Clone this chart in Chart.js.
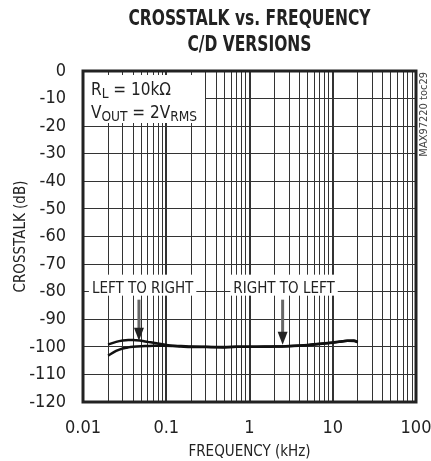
<!DOCTYPE html>
<html>
<head>
<meta charset="utf-8">
<script src="https://cdn.jsdelivr.net/npm/chart.js@4.4.1/dist/chart.umd.min.js"></script>
<style>
  html, body { margin: 0; padding: 0; background: #fff; }
  canvas { display: block; }
</style>
</head>
<body>
<canvas id="chart" width="431" height="461"></canvas>
<script>
// 周波数 (kHz)
const freq = [0.02, 0.025, 0.03, 0.035, 0.04, 0.05, 0.06, 0.07, 0.08, 0.1, 0.12, 0.15, 0.2, 0.3, 0.5, 0.7, 1, 1.5, 2, 3, 4, 5, 7, 10, 12, 15, 18, 20]
// クロストーク (dB)
const leftToRight = [-99.2, -98.2, -97.7, -97.5, -97.5, -97.8, -98.2, -98.5, -98.8, -99.3, -99.6, -99.7, -99.9, -100.0, -100.1, -100.0, -100.0, -100.0, -99.9, -99.8, -99.6, -99.4, -99.0, -98.5, -98.2, -97.8, -97.9, -98.4]
const rightToLeft = [-103.2, -101.5, -100.6, -100.2, -100.0, -99.8, -99.7, -99.6, -99.6, -99.6, -99.7, -99.9, -100.1, -100.1, -100.2, -100.0, -100.0, -99.9, -99.9, -99.7, -99.5, -99.3, -98.9, -98.4, -98.1, -97.8, -97.7, -98.2]

// 目盛り
const xDecades = [0.01, 0.1, 1, 10, 100]
const xMantissa = [1, 2, 3, 4, 5, 6, 7, 8, 9]
const yTicks = [0, -10, -20, -30, -40, -50, -60, -70, -80, -90, -100, -110, -120]

const FONT = '"Liberation Sans Narrow", "DejaVu Sans Condensed", "Liberation Sans", sans-serif'
Chart.defaults.font.family = FONT
Chart.defaults.color = '#222'

// 対数グリッド (1..9 x 10^n)
const xGrid = []
xDecades.forEach((d, i) => {
  if (i === xDecades.length - 1) { xGrid.push(d); return }
  xMantissa.forEach((m) => xGrid.push(m * d))
})

// テキスト (添字つき) を描く
function drawRuns(ctx, runs, x, y, size) {
  let cx = x
  runs.forEach((r) => {
    const s = r.sub ? size * 0.8 : size
    ctx.font = s + 'px ' + FONT
    ctx.fillText(r.t, cx, r.sub ? y + 3 : y)
    cx += ctx.measureText(r.t).width
  })
}

const annotations = {
  id: 'annotations',
  beforeDatasetsDraw(chart) {
    const { ctx, chartArea: a, scales } = chart
    const xs = scales.x, ys = scales.y
    ctx.save()
    // 条件ボックス
    ctx.fillStyle = '#fff'
    ctx.fillRect(a.left, a.top + 4, 122, 48)
    ctx.fillStyle = '#222'
    ctx.textBaseline = 'alphabetic'
    ctx.textAlign = 'left'
    drawRuns(ctx, [{ t: 'R' }, { t: 'L', sub: true }, { t: ' = 10kΩ' }], a.left + 8, a.top + 24, 17)
    drawRuns(ctx, [{ t: 'V' }, { t: 'OUT', sub: true }, { t: ' = 2V' }, { t: 'RMS', sub: true }], a.left + 8, a.top + 47, 17)

    // 系列ラベル
    const yl = ys.getPixelForValue(-80)
    const labels = [
      { text: 'LEFT TO RIGHT', f: 0.052 },
      { text: 'RIGHT TO LEFT', f: 2.6 },
    ]
    ctx.font = '15px ' + FONT
    labels.forEach((l) => {
      const cx = xs.getPixelForValue(l.f)
      const w = ctx.measureText(l.text).width
      ctx.fillStyle = '#fff'
      ctx.fillRect(cx - w / 2 - 3, yl - 17, w + 6, 21)
      ctx.fillStyle = '#222'
      ctx.textAlign = 'center'
      ctx.fillText(l.text, cx, yl + 1)
    })
    ctx.restore()
  },
  afterDatasetsDraw(chart) {
    const { ctx, chartArea: a, scales } = chart
    const xs = scales.x, ys = scales.y
    ctx.save()
    // 矢印
    const arrows = [
      { f: 0.047, tip: -97.8 },
      { f: 2.5, tip: -99.2 },
    ]
    const y0 = ys.getPixelForValue(-80) + 8
    arrows.forEach((ar) => {
      const x = xs.getPixelForValue(ar.f)
      const yt = ys.getPixelForValue(ar.tip)
      ctx.strokeStyle = '#666'
      ctx.lineWidth = 3
      ctx.beginPath()
      ctx.moveTo(x, y0)
      ctx.lineTo(x, yt - 12)
      ctx.stroke()
      ctx.fillStyle = '#222'
      ctx.beginPath()
      ctx.moveTo(x - 5, yt - 13)
      ctx.lineTo(x + 5, yt - 13)
      ctx.lineTo(x, yt)
      ctx.closePath()
      ctx.fill()
    })
    // 枠
    ctx.strokeStyle = '#222'
    ctx.lineWidth = 3
    ctx.strokeRect(a.left, a.top, a.right - a.left, a.bottom - a.top)
    ctx.restore()
  },
  afterDraw(chart) {
    const { ctx, chartArea: a } = chart
    ctx.save()
    // タイトル (縦長の書体に見せるため横方向を詰める)
    ctx.fillStyle = '#222'
    ctx.textAlign = 'center'
    ctx.textBaseline = 'middle'
    ctx.font = 'bold 21px ' + FONT
    const cx = (a.left + a.right) / 2
    ctx.save()
    ctx.translate(cx, 0)
    ctx.scale(0.82, 1)
    ctx.fillText('CROSSTALK vs. FREQUENCY', 0, 20)
    ctx.fillText('C/D VERSIONS', 0, 46)
    ctx.restore()
    // 右側の図番号
    ctx.font = '11px ' + FONT
    ctx.fillStyle = '#444'
    ctx.translate(424, a.top + 1)
    ctx.rotate(-Math.PI / 2)
    ctx.textAlign = 'right'
    ctx.fillText('MAX97220 toc29', 0, 0)
    ctx.restore()
  },
}

const ctx = document.getElementById('chart').getContext('2d')
const chart = new Chart(ctx, {
  type: 'line',
  data: {
    datasets: [
      {
        label: 'LEFT TO RIGHT',
        data: freq.map((f, i) => ({ x: f, y: leftToRight[i] })),
        borderColor: '#111',
        borderWidth: 2.5,
        pointRadius: 0,
        cubicInterpolationMode: 'monotone',
      },
      {
        label: 'RIGHT TO LEFT',
        data: freq.map((f, i) => ({ x: f, y: rightToLeft[i] })),
        borderColor: '#111',
        borderWidth: 2.5,
        pointRadius: 0,
        cubicInterpolationMode: 'monotone',
      },
    ],
  },
  options: {
    responsive: false,
    animation: false,
    devicePixelRatio: 1,
    layout: { padding: { left: 0, right: 15, top: 71, bottom: 0 } },
    plugins: {
      legend: { display: false },
      tooltip: { enabled: false },
      title: { display: false },
    },
    scales: {
      x: {
        type: 'logarithmic',
        min: 0.01,
        max: 100,
        afterBuildTicks: (scale) => {
          scale.ticks = xGrid.map((v) => ({ value: v }))
        },
        afterFit: (scale) => {
          scale.height = 59
          scale.paddingLeft = 0
          scale.paddingRight = 0
        },
        border: { display: false },
        grid: {
          color: '#333',
          drawTicks: false,
          lineWidth: (c) => (c.tick && xDecades.includes(c.tick.value) ? 2 : 1),
        },
        ticks: {
          autoSkip: false,
          maxRotation: 0,
          padding: 16,
          font: { size: 18 },
          color: '#222',
          callback: (v) => (xDecades.includes(v) ? String(v) : ''),
        },
        title: {
          display: true,
          text: 'FREQUENCY (kHz)',
          font: { size: 15 },
          color: '#222',
          padding: { top: 0, bottom: 0 },
        },
      },
      y: {
        min: -120,
        max: 0,
        afterBuildTicks: (scale) => {
          scale.ticks = yTicks.map((v) => ({ value: v }))
        },
        afterFit: (scale) => {
          scale.width = 83
          scale.paddingTop = 0
          scale.paddingBottom = 0
        },
        border: { display: false },
        grid: { color: '#333', lineWidth: 1, drawTicks: false },
        ticks: {
          padding: 17,
          font: { size: 18 },
          color: '#222',
        },
        title: {
          display: true,
          text: 'CROSSTALK (dB)',
          font: { size: 15 },
          color: '#222',
          padding: { top: 12, bottom: 0 },
        },
      },
    },
  },
  plugins: [annotations],
})
</script>
</body>
</html>
